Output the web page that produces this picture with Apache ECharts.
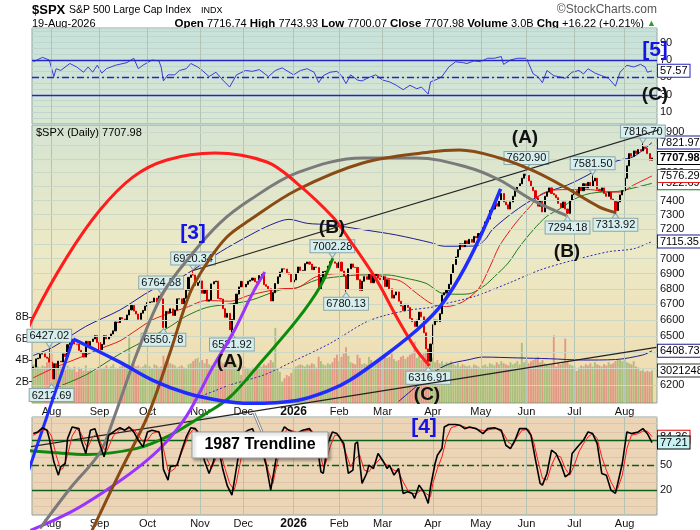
<!DOCTYPE html>
<html>
<head>
<meta charset="utf-8">
<script src="https://cdn.jsdelivr.net/npm/echarts@6/dist/echarts.min.js"></script>
<style>
  html, body { margin: 0; background: #fff; }
  #chart { width: 700px; height: 530px; }
</style>
</head>
<body>
<div id="chart"></div>
<script>
// trading calendar
const firstDay = '2025-07-22', lastDay = '2026-08-19';
const holidays = ['2025-09-01','2025-11-27','2025-12-25','2026-01-01','2026-01-19','2026-02-16',
                  '2026-04-03','2026-05-25','2026-06-19','2026-07-03'];
const monthNames = ['Jan','Feb','Mar','Apr','May','Jun','Jul','Aug','Sep','Oct','Nov','Dec'];

// daily closes
const closes = [
  6309.62,6358.91,6363.35,6388.64,6389.77,6370.86,6362.90,6339.39,6238.01,6329.94,
  6299.19,6345.06,6340.00,6389.45,6373.45,6445.76,6466.58,6468.54,6449.80,6449.15,
  6411.37,6395.78,6370.17,6466.91,6439.32,6465.94,6481.40,6501.86,6460.26,6415.54,
  6448.26,6502.08,6481.50,6495.15,6512.61,6532.04,6587.47,6584.29,6615.28,6606.76,
  6600.35,6631.96,6664.36,6693.75,6656.92,6637.97,6604.72,6643.70,6661.21,6688.46,
  6711.20,6715.35,6715.79,6740.28,6714.59,6753.72,6735.11,6552.51,6654.72,6644.31,
  6671.06,6629.07,6664.01,6735.13,6735.35,6699.40,6738.44,6791.69,6875.16,6890.89,
  6890.59,6822.34,6840.20,6851.97,6771.55,6796.29,6720.32,6728.80,6832.43,6846.61,
  6850.92,6737.49,6734.11,6672.41,6617.32,6642.16,6538.76,6602.99,6705.12,6765.88,
  6812.61,6849.09,6812.63,6829.37,6849.72,6857.12,6870.40,6846.51,6840.51,6886.68,
  6901.00,6827.41,6816.51,6800.26,6721.43,6774.76,6834.50,6878.49,6909.79,6932.05,
  6929.94,6905.74,6896.24,6845.50,
  6858,6902,6944,6921,6921,6966,
  6977,6963,6926,6944,6940,6800,6875,6913,6915,6950,
  6979,6978,6969,6939,6976,6917,6883,6798,6932,6964,
  6942,6941,6860,6790,6850,6880,6862,6895,6840,6885,
  6900,6870,6860,6880,6815,6860,6800,6740,6760,6780,
  6720,6690,6660,6700,6680,6610,6590,6560,6600,6650,
  6620,6520,6420,6345,6450,6570,6600,6590,6640,6760,
  6775,6790,6830,6900,6960,7010,7060,7100,7080,7120,
  7095,7130,7110,7150,7140,7170,7180,7210,7250,7270,
  7330,7340,7380,7360,7400,7450,7390,7370,7340,7390,
  7430,7470,7500,7520,7560,7590,7580,7540,7500,7470,
  7420,7360,7400,7320,7430,7460,7490,7450,7440,7420,
  7380,7350,7390,7340,7310,7400,7440,7470,7450,7500,
  7470,7520,7490,7530,7500,7540,7560,7480,7470,7490,
  7450,7430,7460,7410,7400,7330,7390,7440,7470,7560,
  7650,7740,7720,7760,7740,7770,7760,7790,7780,7740,
  7691.76,7707.98
];
const firstOpen = 6300;

// daily volume, billions
const volumes = [
  3.6,3.5,3.4,3.3,3.5,3.4,3.8,4.3,4.6,3.3, 3.1,3.2,3.4,3.0,3.1,3.5,3.3,3.1,3.4,2.9,
  3.3,3.2,3.0,3.5,3.0,3.1,2.9,3.0,3.1,3.4, 3.2,3.3,3.5,3.3,3.4,3.6,3.3,3.2,3.4,3.5,
  3.6,3.4,6.1,3.5,3.6,3.4,3.5,3.3,3.4,3.6, 3.5,3.4,3.2,3.6,3.5,3.3,3.4,4.4,3.8,3.9,
  3.7,3.6,3.5,3.3,3.4,3.5,3.3,3.2,3.6,3.7, 3.9,4.1,4.2,3.8,4.0,3.7,4.1,3.6,3.5,3.3,
  3.6,4.0,3.9,3.7,3.8,4.0,4.4,4.3,3.7,3.6, 3.2,2.6,3.4,3.3,3.2,3.1,3.3,3.2,3.3,3.5,
  3.4,3.6,3.5,3.7,4.0,3.8,7.0,3.2,2.9,2.0, 2.3,2.6,2.5,2.8,3.2,3.4,3.5,3.6,3.5,3.4,
  3.6,3.5,3.7,3.6,3.3,4.3,3.9,3.6,3.5,3.7, 3.6,3.8,4.2,4.5,3.9,4.3,4.6,5.2,4.4,3.8,
  3.7,3.6,4.5,4.2,3.6,3.7,3.6,4.3,4.0,3.8, 3.7,3.9,4.0,4.2,4.5,4.2,4.3,4.6,4.1,3.9,
  4.0,4.3,4.4,4.1,4.3,4.5,4.6,5.7,4.2,4.4, 4.0,4.6,4.8,4.9,4.5,4.2,3.8,4.0,3.7,3.9,
  3.6,3.8,3.7,3.9,3.6,3.5,3.7,3.4,3.6,3.5, 3.4,3.5,3.3,3.6,3.5,3.4,3.2,3.5,3.6,3.4,
  3.7,3.6,3.5,3.8,3.6,3.9,3.7,3.6,3.5,3.8, 3.6,3.7,3.9,3.6,5.6,3.8,4.0,3.7,3.9,4.0,
  4.1,4.3,3.8,4.0,3.7,3.6,3.5,3.6,6.3,3.4, 3.7,3.6,3.8,6.0,3.9,3.6,3.5,3.4,3.0,3.3,
  3.5,3.4,3.6,3.5,3.7,3.4,3.8,3.6,3.5,3.4, 3.6,3.5,3.8,3.6,3.7,3.9,4.1,4.0,3.9,4.2,
  3.8,3.7,3.6,3.9,3.4,3.3,3.0,3.1,2.9,3.0, 2.9,3.021248
];

// labelled swing highs (1) and lows (0): [day, price, isHigh]
const swings = [
  [7,6427.02,1],[8,6212.69,0],[56,6764.58,1],[57,6550.78,0],[70,6920.34,1],[87,6521.92,0],
  [131,7002.28,1],[137,6780.13,0],[173,6316.91,0],[216,7620.90,1],[234,7294.18,0],
  [245,7581.50,1],[255,7313.92,0],[267,7816.70,1]
];

// indicator lines: [day, value]
const ma20Points = [[0,6245],[10,6310],[20,6365],[30,6425],[38,6470],[45,6535],[52,6600],[60,6645],
  [67,6680],[76,6725],[86,6720],[95,6760],[108,6800],[115,6805],[124,6880],[134,6900],[147,6900],
  [155,6870],[161,6850],[168,6770],[175,6700],[181,6686],[188,6715],[195,6800],[200,6945],[204,7080],
  [209,7195],[213,7275],[218,7365],[222,7440],[228,7475],[236,7478],[244,7478],[251,7460],[257,7460],
  [263,7511],[271,7576.29]];
const ma50Points = [[0,6120],[9,6180],[23,6262],[38,6390],[52,6495],[60,6560],[67,6625],[76,6680],
  [85,6700],[95,6725],[108,6793],[115,6805],[124,6858],[134,6880],[144,6891],[155,6891],[163,6870],
  [172,6836],[179,6772],[187,6765],[192,6772],[198,6825],[202,6880],[208,6970],[213,7080],[219,7195],
  [225,7290],[231,7345],[237,7410],[243,7447],[249,7460],[256,7465],[263,7490],[271,7522.69]];
const upperPoints = [[0,6380],[9,6434],[23,6560],[38,6664],[52,6793],[60,6836],[70,6924],[82,7046],
  [95,7160],[104,7230],[112,7268],[120,7240],[130,7230],[145,7195],[159,7160],[174,7108],[180,7083],
  [194,7085],[198,7130],[201,7195],[208,7290],[214,7360],[219,7410],[225,7460],[234,7511],[243,7584],
  [249,7645],[257,7693],[263,7718],[271,7821.97]];
const ma200Points = [[72,6130],[80,6170],[86,6202],[101,6262],[115,6352],[130,6454],[145,6582],
  [153,6625],[165,6664],[174,6680],[178,6696],[193,6750],[208,6836],[222,6924],[237,6991],[252,7046],
  [263,7066],[271,7115.35]];
const lowerPoints = [[160,6105],[168,6196],[175,6275],[182,6327],[190,6352],[197,6370],[212,6365],
  [226,6360],[241,6352],[255,6355],[267,6383],[271,6408.73]];

const rsiPoints = [[0,68],[4,73],[7,70],[9,51],[10,60],[12,58],[16,66],[19,62],[22,56],[24,62],[26,56],
  [28,64],[30,55],[32,60],[36,64],[41,67],[44,72],[46,60],[48,64],[52,70],[55,69],[56,62],[57,46],[59,53],
  [62,53],[64,58],[67,60],[69,66],[72,62],[74,58],[77,51],[80,56],[83,47],[86,39],[89,53],[93,58],[96,57],
  [99,59],[103,51],[106,58],[109,61],[114,53],[117,58],[120,60],[123,56],[125,44],[127,52],[130,56],
  [133,57],[135,52],[137,43],[139,53],[142,47],[144,46],[147,50],[150,53],[153,47],[156,45],[159,41],
  [162,36],[165,41],[168,37],[170,39],[173,31],[174,45],[177,48],[179,51],[182,62],[185,68],[188,67],
  [190,66],[193,69],[196,68],[199,72],[202,72],[205,74],[206,65],[209,70],[212,72],[216,72],[219,54],
  [221,51],[223,44],[225,58],[228,52],[230,51],[233,49],[236,56],[239,58],[241,54],[243,60],[246,55],
  [249,52],[252,49],[253,46],[255,40],[257,56],[260,64],[263,62],[266,65],[268,62],[269,56],[271,57.57]];

const stochK = [[0,88],[2,90],[4,95],[6,92],[7,82],[9,54],[11,38],[12,48],[14,52],[15,82],[17,96],[20,94],
  [21,80],[23,64],[24,78],[25,92],[27,94],[29,76],[31,60],[32,72],[33,86],[36,92],[38,95],[40,92],[42,96],
  [44,90],[46,80],[48,72],[50,90],[52,92],[55,90],[56,82],[57,45],[59,32],[60,48],[63,50],[65,68],[67,84],
  [69,95],[71,94],[73,85],[75,55],[77,40],[79,55],[80,70],[81,72],[83,45],[85,25],[87,14],[88,30],[90,64],
  [92,88],[94,92],[96,94],[98,80],[100,70],[102,50],[104,20],[106,52],[108,85],[110,96],[112,92],[115,88],
  [118,92],[121,94],[124,80],[126,42],[127,40],[129,76],[131,90],[133,88],[136,76],[138,40],[140,44],
  [141,76],[142,78],[144,28],[146,40],[147,50],[149,46],[151,64],[153,56],[155,46],[156,50],[158,38],
  [160,46],[162,16],[164,18],[166,16],[167,10],[169,26],[171,18],[173,4],[174,24],[176,52],[177,62],
  [179,70],[180,96],[182,99],[185,99],[187,98],[189,94],[191,96],[194,94],[197,88],[199,94],[202,95],
  [205,92],[207,74],[209,70],[211,80],[213,94],[216,94],[218,86],[220,56],[222,28],[223,26],[225,40],
  [227,68],[229,64],[231,52],[233,36],[235,40],[236,64],[239,74],[241,80],[243,90],[245,88],[247,76],
  [249,40],[251,38],[253,20],[255,16],[258,52],[260,90],[262,88],[265,90],[267,94],[269,88],[271,77.21]];
const stochD = [[0,86],[2,89],[4,92],[6,93],[8,85],[10,62],[12,45],[13,46],[15,62],[17,85],[19,94],[21,88],
  [23,74],[24,72],[26,84],[28,88],[30,74],[32,66],[33,72],[35,85],[38,93],[40,93],[42,94],[44,93],[46,86],
  [48,78],[50,80],[52,88],[55,91],[57,70],[59,44],[60,42],[62,46],[64,58],[66,72],[68,86],[70,93],[72,92],
  [74,76],[76,58],[78,46],[80,58],[82,65],[84,46],[86,28],[88,20],[89,30],[91,58],[93,80],[95,90],[97,88],
  [99,78],[101,65],[103,42],[105,28],[107,55],[109,82],[111,93],[113,92],[116,89],[119,91],[122,92],
  [125,70],[127,48],[128,52],[130,72],[132,86],[134,86],[137,64],[139,48],[141,58],[143,62],[145,44],
  [147,42],[148,46],[150,52],[152,58],[154,52],[156,48],[158,44],[160,42],[162,30],[164,20],[166,16],
  [168,16],[170,20],[172,16],[174,12],[175,28],[177,46],[179,60],[181,82],[183,95],[186,98],[188,97],
  [190,95],[192,95],[195,93],[198,91],[200,93],[203,94],[206,88],[208,78],[210,74],[212,84],[214,92],
  [217,93],[219,80],[221,56],[223,34],[225,32],[227,50],[229,62],[231,60],[233,46],[235,38],[237,50],
  [239,66],[241,76],[243,84],[245,88],[247,82],[249,60],[251,44],[253,30],[255,20],[256,22],[258,38],
  [260,70],[262,86],[265,88],[267,91],[269,91],[271,84.36]];

// hand-drawn arcs and trendlines: [day, price]
const redArc = [[-14.6,6088],[-8.9,6308],[0,6618],[14.7,7010],[29.2,7333],[43.6,7568],[58.5,7693],
  [79.5,7744],[102.3,7678],[115.4,7525],[131.2,7284],[138.6,7125],[150.4,6857],[159.2,6618],
  [167.9,6412],[173.6,6316.91]];
const grayArc = [[2.9,5406],[16.1,5617],[29.2,5814],[34.9,5995],[45.4,6393],[56.8,6772],[69.9,7037],
  [81.7,7242],[94.8,7403],[115.4,7598],[144.3,7708],[167.9,7708],[189.8,7642],[204.2,7547],
  [218.7,7403],[233.6,7294.18]];
const brownArc = [[25.7,5395],[37.9,5704],[50.2,6024],[59.8,6393],[68.6,6772],[76,6969],[84.8,7146],
  [94.8,7263],[115.4,7475],[144.3,7671],[173.6,7752],[186.7,7767],[204.2,7708],[218.7,7616],
  [233.6,7489],[248,7354],[255.4,7313.92]];
const greenArc = [[-14.6,5837],[8.6,5814],[23.5,5803],[45.4,5837],[59.8,5910],[74.3,6024],[86.1,6130],
  [100.5,6351],[115.4,6599],[125.5,6811],[131.2,7002.28]];
const purpleArc = [[-1.4,5395],[16.1,5490],[30.5,5596],[45.4,5726],[56.8,5853],[67.3,6024],
  [78.6,6308],[87.4,6517],[96.1,6772],[101.4,6910]];
const blueArc = [[17.5,6481],[37.9,6339],[52.4,6230],[67.3,6153],[81.7,6111],[94.8,6094],[115.4,6111],
  [129.8,6171],[138.6,6230],[153,6369],[167.9,6536],[178,6682],[186.7,6876],[195.5,7139],[204.7,7483]];
const blueLine = [[-5.8,5579],[17.5,6481]];
const upperTrend = [[70,6920.34],[284.3,7971]];
const trend1987 = [[-14.6,5819],[272.9,6430]];

const priceTicks = [6200,6300,6400,6500,6600,6700,6800,6900,7000,7100,7200,7300,7400,7500,7600,7700,7800,7900];
const volumeTicks = [2,4,6,8];
const lastQuote = { open: '7716.74', high: '7743.93', low: '7700.07', vol: '3.0B', chg: '+16.22 (+0.21%)' };

// ---- build ----
const dates = [];
for (let d = new Date(firstDay + 'T00:00:00Z'); d <= new Date(lastDay + 'T00:00:00Z'); d.setUTCDate(d.getUTCDate() + 1)) {
  const s = d.toISOString().slice(0, 10), wd = d.getUTCDay();
  if (wd > 0 && wd < 6 && holidays.indexOf(s) < 0) dates.push(s);
}
const N = closes.length;
const last = N - 1;
const monthStarts = [];
for (let i = 1; i < dates.length; i++) {
  if (dates[i].slice(5, 7) !== dates[i - 1].slice(5, 7)) monthStarts.push(i);
}
function monthLabel(v) {
  const d = dates[Math.round(v)];
  if (!d) return '';
  const m = +d.slice(5, 7);
  return m === 1 ? '{y|' + d.slice(0, 4) + '}' : monthNames[m - 1];
}

const candles = closes.map((c, i) => {
  const o = i ? closes[i - 1] : firstOpen;
  let lo = Math.min(o, c), hi = Math.max(o, c);
  swings.forEach(s => { if (s[0] === i) { if (s[2]) hi = Math.max(hi, s[1]); else lo = Math.min(lo, s[1]); } });
  return [i, o, c, lo, hi];
});
const volData = volumes.map((v, i) => [i, v]);
const upDay = closes.map((c, i) => i === 0 ? c >= firstOpen : c >= closes[i - 1]);

const xMin = -0.57, xMax = 273.2;
const FONT = '"Liberation Sans", Arial, sans-serif';

function xAxisCfg(gridIndex, showLabels) {
  return {
    type: 'value', gridIndex, min: xMin, max: xMax,
    axisLine: { show: false }, axisTick: { show: false }, splitLine: { show: false },
    axisLabel: {
      show: showLabels, customValues: monthStarts, formatter: monthLabel,
      fontSize: 11, color: '#111', margin: 3, fontFamily: FONT,
      rich: { y: { fontWeight: 'bold', fontSize: 12, fontFamily: FONT } }
    }
  };
}
function grad(stops) {
  return new echarts.graphic.LinearGradient(0, 0, 0, 1, stops.map(c => ({ offset: c[0], color: c[1] })));
}
function tagLabel(text, border, bg, bold) {
  return {
    show: true, formatter: text, fontSize: 11, fontFamily: FONT, color: '#000',
    fontWeight: bold ? 'bold' : 'normal', backgroundColor: bg || '#fff',
    borderColor: border, borderWidth: 1, padding: [1, 2, 0, 2], distance: 6
  };
}
function gridLines(xi, yi, extra) {
  const data = monthStarts.map(m => ({ xAxis: m }));
  return {
    type: 'line', xAxisIndex: xi, yAxisIndex: yi, data: [], z: 1, silent: true,
    markLine: {
      silent: true, symbol: ['none', 'none'], label: { show: false }, animation: false,
      lineStyle: { color: '#b4c3b4', width: 1, type: 'solid' },
      data: data.concat(extra || [])
    }
  };
}
function arc(data, color, width, smooth) {
  return {
    type: 'line', xAxisIndex: 1, yAxisIndex: 1, data, clip: false, symbol: 'none',
    smooth: smooth ? 0.35 : false, silent: true, z: 6,
    lineStyle: { color, width }
  };
}
function levelLine(v, color, dashed) {
  return { yAxis: v, lineStyle: { color, width: 1.3, type: dashed ? [7, 3, 2, 3] : 'solid' } };
}
function waveText(text, x, y, blue) {
  return { type: 'text', x, y, z: 20, style: { text, font: 'bold ' + (blue ? 21 : 19) + 'px ' + FONT,
    fill: blue ? '#1414e6' : '#111', align: 'center', verticalAlign: 'middle' } };
}

const chart = echarts.init(document.getElementById('chart'));
const option = {
  animation: false,
  backgroundColor: '#fff',
  textStyle: { fontFamily: FONT },
  grid: [
    { left: 32, right: 43, top: 28, height: 96, show: true, borderColor: '#8fa3a0', borderWidth: 1,
      backgroundColor: grad([[0, '#c6e1dc'], [1, '#d9e7d2']]) },
    { left: 32, right: 43, top: 125, height: 278, show: true, borderColor: '#8fa3a0', borderWidth: 1,
      backgroundColor: grad([[0, '#d5e4d2'], [0.45, '#ece9c6'], [1, '#f0dbad']]) },
    { left: 32, right: 43, top: 417, height: 98, show: true, borderColor: '#8fa3a0', borderWidth: 1,
      backgroundColor: '#ecd4b6' }
  ],
  xAxis: [xAxisCfg(0, false), xAxisCfg(1, true), xAxisCfg(2, true)],
  yAxis: [
    { type: 'value', gridIndex: 0, position: 'right', min: -10 / 3, max: 320 / 3, interval: 20 / 3,
      axisLine: { show: false }, axisTick: { show: false },
      splitLine: { show: true, lineStyle: { color: '#c0d6cc', width: 1 } },
      axisLabel: { customValues: [10, 30, 50, 70, 90], fontSize: 11, color: '#111', margin: 3 } },
    { type: 'log', gridIndex: 1, position: 'right', min: 6096, max: 7955,
      axisLine: { show: false }, axisTick: { show: false }, splitLine: { show: false },
      axisLabel: { customValues: priceTicks, fontSize: 11, color: '#111', margin: 3, formatter: v => String(Math.round(v)) } },
    { type: 'value', gridIndex: 1, position: 'left', min: 0, max: 25.9,
      axisLine: { show: false }, splitLine: { show: false },
      axisTick: { show: true, customValues: volumeTicks, length: 3, lineStyle: { color: '#333' } },
      axisLabel: { customValues: volumeTicks, formatter: v => v + 'B', fontSize: 11, color: '#111', margin: 3 } },
    { type: 'value', gridIndex: 2, position: 'right', min: -10, max: 108, interval: 10,
      axisLine: { show: false }, axisTick: { show: false },
      splitLine: { show: true, lineStyle: { color: '#dcc5a8', width: 1 } },
      axisLabel: { customValues: [20, 50], fontSize: 11, color: '#111', margin: 3 } }
  ],
  series: [
    gridLines(0, 0),
    gridLines(1, 1, priceTicks.map(v => ({ yAxis: v, lineStyle: { color: '#cdd7c6', width: 1 } }))),
    gridLines(2, 3),
    // RSI
    { type: 'line', xAxisIndex: 0, yAxisIndex: 0, data: rsiPoints, symbol: 'none', z: 3,
      lineStyle: { color: '#3b3bd8', width: 1 },
      endLabel: tagLabel(rsiPoints[rsiPoints.length - 1][1].toFixed(2), '#2424c8', '#fff'),
      markLine: { silent: true, symbol: ['none', 'none'], label: { show: false },
        data: [levelLine(70, '#2424c8'), levelLine(50, '#2424c8', true), levelLine(30, '#2424c8')] } },
    // volume
    { type: 'bar', xAxisIndex: 1, yAxisIndex: 2, data: volData, barWidth: 1.9, z: 2,
      itemStyle: { color: p => upDay[p.dataIndex] ? 'rgba(112,168,84,0.55)' : 'rgba(214,96,96,0.55)' },
      markPoint: { symbol: 'rect', symbolSize: 0, silent: true,
        data: [{ coord: [last, volumes[last]], label: Object.assign(tagLabel(String(Math.round(volumes[last] * 1e6)), '#333', '#fff'), { position: 'right' }) }] } },
    // moving averages and bands
    { type: 'line', xAxisIndex: 1, yAxisIndex: 1, data: ma200Points, symbol: 'none', smooth: 0.3, z: 3,
      lineStyle: { color: '#2a2ab4', width: 1, type: [2, 2] },
      endLabel: tagLabel(ma200Points[ma200Points.length - 1][1].toFixed(2), '#1c1c8c') },
    { type: 'line', xAxisIndex: 1, yAxisIndex: 1, data: lowerPoints, symbol: 'none', smooth: 0.3, z: 3,
      lineStyle: { color: '#1c1c9a', width: 1 },
      endLabel: tagLabel(lowerPoints[lowerPoints.length - 1][1].toFixed(2), '#1c1c8c') },
    { type: 'line', xAxisIndex: 1, yAxisIndex: 1, data: upperPoints, symbol: 'none', smooth: 0.3, z: 3,
      lineStyle: { color: '#1c1c9a', width: 1 },
      endLabel: tagLabel(upperPoints[upperPoints.length - 1][1].toFixed(2), '#1c1c8c') },
    { type: 'line', xAxisIndex: 1, yAxisIndex: 1, data: ma50Points, symbol: 'none', smooth: 0.3, z: 3,
      lineStyle: { color: '#1d7a1d', width: 1 },
      endLabel: tagLabel(ma50Points[ma50Points.length - 1][1].toFixed(2), '#1d7a1d') },
    { type: 'line', xAxisIndex: 1, yAxisIndex: 1, data: ma20Points, symbol: 'none', smooth: 0.3, z: 3,
      lineStyle: { color: '#e41c1c', width: 1 },
      endLabel: tagLabel(ma20Points[ma20Points.length - 1][1].toFixed(2), '#e41c1c') },
    // price candles
    { type: 'candlestick', xAxisIndex: 1, yAxisIndex: 1, data: candles, barWidth: 1.6, z: 4,
      encode: { x: 0, y: [1, 2, 3, 4] },
      itemStyle: { color: '#000', color0: '#e00000', borderColor: '#000', borderColor0: '#e00000', borderWidth: 1 },
      markPoint: {
        silent: true,
        data: swings.map(s => ({
          coord: [s[0], s[1]], symbol: 'triangle', symbolSize: [7, 5], symbolRotate: s[2] ? 180 : 0,
          symbolOffset: [0, s[2] ? -3 : 3],
          itemStyle: { color: '#d3eeee', borderColor: '#8aa6a6', borderWidth: 1 },
          label: { show: true, position: s[2] ? 'top' : 'bottom', distance: 0, formatter: s[1].toFixed(2),
            fontSize: 11, color: '#111', backgroundColor: '#d6eeee', borderColor: '#8aa6a6',
            borderWidth: 1, padding: [1, 2, 0, 2] }
        })).concat([{
          coord: [last, closes[last]], symbol: 'rect', symbolSize: 0,
          label: Object.assign(tagLabel(closes[last].toFixed(2), '#000', '#fff', true), { position: 'right' })
        }])
      } },
    // hand-drawn annotations
    arc(trend1987, '#222', 1.2, false),
    arc(upperTrend, '#222', 1.2, false),
    arc(greenArc, '#0c8a0c', 3, true),
    arc(purpleArc, '#9a33ff', 3, true),
    arc(grayArc, '#7a7a7a', 3, true),
    arc(brownArc, '#8a4a14', 3, true),
    arc(redArc, '#ff1c1c', 3, true),
    arc(blueArc, '#1f2cff', 3.5, true),
    arc(blueLine, '#1f2cff', 3, false),
    // stochastics
    { type: 'line', xAxisIndex: 2, yAxisIndex: 3, data: stochD, symbol: 'none', z: 7,
      lineStyle: { color: '#ff1a1a', width: 1 },
      endLabel: tagLabel(stochD[stochD.length - 1][1].toFixed(2), '#e00000', '#fff'),
      markLine: { silent: true, symbol: ['none', 'none'], label: { show: false },
        data: [levelLine(80, '#0b5f16'), levelLine(50, '#0b5f16', true), levelLine(20, '#0b5f16')] } },
    { type: 'line', xAxisIndex: 2, yAxisIndex: 3, data: stochK, symbol: 'none', z: 8,
      lineStyle: { color: '#000', width: 1.6 },
      endLabel: tagLabel(stochK[stochK.length - 1][1].toFixed(2), '#000', '#c8f2f2') }
  ],
  graphic: [
    { type: 'text', x: 32, y: 10, style: { text: '$SPX', font: 'bold 13px ' + FONT, fill: '#000', verticalAlign: 'middle' } },
    { type: 'text', x: 69, y: 10, style: { text: 'S&P 500 Large Cap Index', font: '10.5px ' + FONT, fill: '#000', verticalAlign: 'middle' } },
    { type: 'text', x: 201, y: 11, style: { text: 'INDX', font: '9px ' + FONT, fill: '#000', verticalAlign: 'middle' } },
    { type: 'text', x: 657, y: 10, style: { text: '©StockCharts.com', font: '12px ' + FONT, fill: '#555', align: 'right', verticalAlign: 'middle' } },
    { type: 'text', x: 32, y: 24, style: { text: dates[last].slice(8, 10) + '-Aug-' + dates[last].slice(0, 4), font: '11px ' + FONT, fill: '#000', verticalAlign: 'middle' } },
    { type: 'text', x: 656, y: 24, style: {
        text: '{b|Open} ' + lastQuote.open + ' {b|High} ' + lastQuote.high + ' {b|Low} ' + lastQuote.low +
              ' {b|Close} ' + closes[last].toFixed(2) + ' {b|Volume} ' + lastQuote.vol + ' {b|Chg} ' + lastQuote.chg + ' {g|▲}',
        font: '11px ' + FONT, fill: '#000', align: 'right', verticalAlign: 'middle',
        rich: { b: { font: 'bold 11.5px ' + FONT }, g: { fill: '#2a9a2a', font: '9px ' + FONT } } } },
    { type: 'text', x: 36, y: 133, z: 20, style: { text: '$SPX (Daily) ' + closes[last].toFixed(2), font: '11px ' + FONT, fill: '#000', verticalAlign: 'middle' } },
    // wave labels
    waveText('[3]', 193, 233, true),
    waveText('(A)', 230, 362),
    waveText('(B)', 332, 228),
    waveText('(C)', 427, 395),
    waveText('[4]', 424, 427, true),
    waveText('(A)', 525, 138),
    waveText('(B)', 567, 252),
    waveText('[5]', 655, 50, true),
    waveText('(C)', 655, 95),
    // trendline callout
    { type: 'line', z: 20, shape: { x1: 262, y1: 432, x2: 254, y2: 413 }, style: { stroke: '#888', lineWidth: 3 } },
    { type: 'line', z: 21, shape: { x1: 262, y1: 432, x2: 254, y2: 413 }, style: { stroke: '#fff', lineWidth: 1 } },
    { type: 'rect', z: 22, shape: { x: 192, y: 432, width: 136, height: 26 },
      style: { fill: '#fff', stroke: '#999', lineWidth: 1, shadowBlur: 3, shadowColor: 'rgba(0,0,0,0.35)', shadowOffsetX: 2, shadowOffsetY: 2 } },
    { type: 'text', z: 23, x: 260, y: 445, style: { text: '1987 Trendline', font: 'bold 16px ' + FONT, fill: '#000', align: 'center', verticalAlign: 'middle' } }
  ]
};
chart.setOption(option);
</script>
</body>
</html>
